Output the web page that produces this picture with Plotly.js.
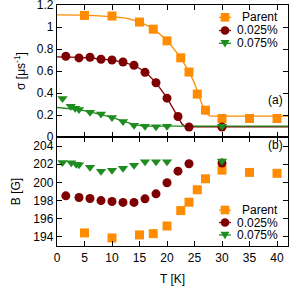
<!DOCTYPE html>
<html><head><meta charset="utf-8">
<script src="https://cdn.plot.ly/plotly-3.0.1.min.js"></script>
<style>html,body{margin:0;padding:0;background:#fff}#c{width:291px;height:293px}</style>
</head><body><div id="c"></div>
<script>
// ---- data ----
const seriesNames = ["Parent", "0.025%", "0.075%"];
// panel (a): sigma [us^-1]
const parentT = [5, 10, 15, 17.5, 20, 22.5, 24, 25.5, 27, 30, 35, 40];
const parentSigma = [1.105, 1.10, 1.045, 0.98, 0.874, 0.72, 0.59, 0.39, 0.244, 0.168, 0.168, 0.168];
const d025T = [1.6, 4, 6, 8, 10, 12, 14, 16, 18, 20, 22, 24, 30];
const d025Sigma = [0.734, 0.719, 0.725, 0.707, 0.70, 0.682, 0.652, 0.588, 0.493, 0.353, 0.186, 0.091, 0.091];
const d075T = [1, 2.5, 3.3, 4, 6, 8, 10, 12, 14, 16, 18, 20, 30];
const d075Sigma = [0.35, 0.28, 0.262, 0.25, 0.226, 0.21, 0.177, 0.14, 0.107, 0.098, 0.093, 0.097, 0.097];
// fit curves
const parentFitT = [0, 5, 10, 12.5, 15, 17.5, 20, 22.5, 24, 25, 25.6, 26.5, 27.2, 27.8, 42];
const parentFitS = [1.11, 1.108, 1.095, 1.08, 1.048, 0.985, 0.88, 0.72, 0.595, 0.49, 0.40, 0.28, 0.215, 0.19, 0.19];
const d025FitT = [0, 2, 4, 6, 8, 10, 12, 14, 16, 18, 20, 21, 22, 22.7, 23.3, 42];
const d025FitS = [0.728, 0.727, 0.724, 0.718, 0.71, 0.698, 0.68, 0.65, 0.595, 0.495, 0.355, 0.27, 0.185, 0.12, 0.093, 0.093];
const d075FitT = [0, 2, 4, 6, 8, 10, 12, 14, 15.5, 16.5, 42];
const d075FitS = [0.268, 0.26, 0.248, 0.228, 0.205, 0.178, 0.145, 0.115, 0.102, 0.099, 0.099];
// panel (b): B [G]
const parentBT = [5, 10, 15, 17.5, 20, 22.5, 24, 25.5, 27, 30, 35, 40];
const parentB = [194.44, 193.89, 194.22, 194.36, 195.2, 196.9, 197.82, 199.19, 200.4, 201.35, 201.1, 201.0];
const d025BT = [1.6, 4, 6, 8, 10, 12, 14, 16, 18, 20, 22, 24, 30];
const d025B = [198.52, 198.34, 198.23, 198.0, 197.9, 197.8, 197.8, 198.19, 198.74, 199.96, 201.24, 202.06, 202.13];
const d075BT = [1, 2.6, 3.5, 4, 6, 8, 10, 12, 14, 16, 18, 20, 30];
const d075B = [202.2, 202.17, 202.0, 201.94, 201.68, 201.24, 201.35, 201.57, 201.9, 202.27, 202.27, 202.27, 202.35];
const xTicks = [0, 5, 10, 15, 20, 25, 30, 35, 40];
const sigmaTicks = [0, 0.2, 0.4, 0.6, 0.8, 1, 1.2];
const bTicks = [194, 196, 198, 200, 202, 204];

// ---- styles ----
const colors = ["#ff8c00", "#7f0000", "#1e8c1e"];
const symbols = ["square", "circle", "triangle-down"];
const font = "Liberation Sans, Arial, sans-serif";
const W = 291, H = 293, M = {l: 57, r: 3, t: 5, b: 47};
const PW = W - M.l - M.r, PH = H - M.t - M.b;
const px = v => (v - M.l) / PW;          // page px -> paper x
const py = v => (H - M.b - v) / PH;      // page px -> paper y

function pts(x, y, i, xa, ya) {
  return {x: x, y: y, xaxis: xa, yaxis: ya, mode: "markers", type: "scatter",
    name: seriesNames[i], showlegend: false,
    marker: {symbol: symbols[i], size: 9, color: colors[i], line: {width: 0}}};
}
function fit(x, y, i) {
  return {x: x, y: y, xaxis: "x", yaxis: "y", mode: "lines", type: "scatter",
    showlegend: false, hoverinfo: "skip", line: {color: colors[i], width: 1.3}};
}
const data = [
  fit(d025FitT, d025FitS, 1), fit(d075FitT, d075FitS, 2), fit(parentFitT, parentFitS, 0),
  pts(parentT, parentSigma, 0, "x", "y"),
  pts(d025T, d025Sigma, 1, "x", "y"),
  pts(d075T, d075Sigma, 2, "x", "y"),
  pts(parentBT, parentB, 0, "x2", "y2"),
  pts(d025BT, d025B, 1, "x2", "y2"),
  pts(d075BT, d075B, 2, "x2", "y2")
];

// ---- key (gnuplot style: sample on the left, right-aligned text) ----
const shapes = [], annotations = [];
function keyBlock(rowsY) {
  const mx = 225, tx = 280, r = 4.3;
  rowsY.forEach((yy, i) => {
    annotations.push({text: seriesNames[i], xref: "paper", yref: "paper", x: px(tx), y: py(yy),
      xanchor: "right", yanchor: "middle", showarrow: false, font: {family: font, size: 12, color: "#000"}});
    shapes.push({type: "line", xref: "paper", yref: "paper", x0: px(mx - 6), x1: px(mx + 6),
      y0: py(yy), y1: py(yy), line: {color: colors[i], width: 1.3}});
    if (i === 0) {
      shapes.push({type: "rect", xref: "paper", yref: "paper", x0: px(mx - r), x1: px(mx + r),
        y0: py(yy + r), y1: py(yy - r), fillcolor: colors[i], line: {width: 0}});
    } else if (i === 1) {
      shapes.push({type: "circle", xref: "paper", yref: "paper", x0: px(mx - r), x1: px(mx + r),
        y0: py(yy + r), y1: py(yy - r), fillcolor: colors[i], line: {width: 0}});
    } else {
      const p = `M ${px(mx - 4.6)} ${py(yy - 3.3)} L ${px(mx + 4.6)} ${py(yy - 3.3)} L ${px(mx)} ${py(yy + 4.3)} Z`;
      shapes.push({type: "path", xref: "paper", yref: "paper", path: p, fillcolor: colors[i], line: {width: 0}});
    }
  });
}
keyBlock([17.3, 30.5, 43.3]);
keyBlock([210, 222.5, 235]);
annotations.push(
  {text: "(a)", xref: "x domain", yref: "y domain", x: 0.985, y: 0.28, xanchor: "right",
    yanchor: "middle", showarrow: false, font: {family: font, size: 12, color: "#000"}},
  {text: "(b)", xref: "x2 domain", yref: "y2 domain", x: 0.985, y: 0.93, xanchor: "right",
    yanchor: "middle", showarrow: false, font: {family: font, size: 12, color: "#000"}}
);

const axCommon = {showline: true, linecolor: "#000", linewidth: 1.2, mirror: "ticks",
  ticks: "inside", ticklen: 5, tickcolor: "#000", showgrid: false, zeroline: false,
  ticklabeloverflow: "allow",
  tickfont: {family: font, size: 12, color: "#000"}};
const split = 109 / PH;
const layout = {
  width: W, height: H, margin: M, showlegend: false,
  paper_bgcolor: "#fff", plot_bgcolor: "#fff",
  font: {family: font, size: 12, color: "#000"},
  xaxis: Object.assign({}, axCommon, {domain: [0, 1], range: [0, 42], anchor: "y",
    tickvals: xTicks, showticklabels: false}),
  yaxis: Object.assign({}, axCommon, {domain: [split, 1], range: [0, 1.2], anchor: "x",
    tickvals: sigmaTicks, ticktext: sigmaTicks.map(String),
    title: {text: "σ [μs<sup>-1</sup>]", font: {family: font, size: 12, color: "#000"}, standoff: 8}}),
  xaxis2: Object.assign({}, axCommon, {domain: [0, 1], range: [0, 42], anchor: "y2",
    tickvals: xTicks, title: {text: "T [K]", font: {family: font, size: 12, color: "#000"}, standoff: 11}}),
  yaxis2: Object.assign({}, axCommon, {domain: [0, split], range: [193, 205], anchor: "x2",
    tickvals: bTicks,
    title: {text: "B [G]", font: {family: font, size: 12, color: "#000"}, standoff: 10}}),
  shapes: shapes,
  annotations: annotations
};
Plotly.newPlot("c", data, layout, {displayModeBar: false, staticPlot: true});
</script></body></html>
